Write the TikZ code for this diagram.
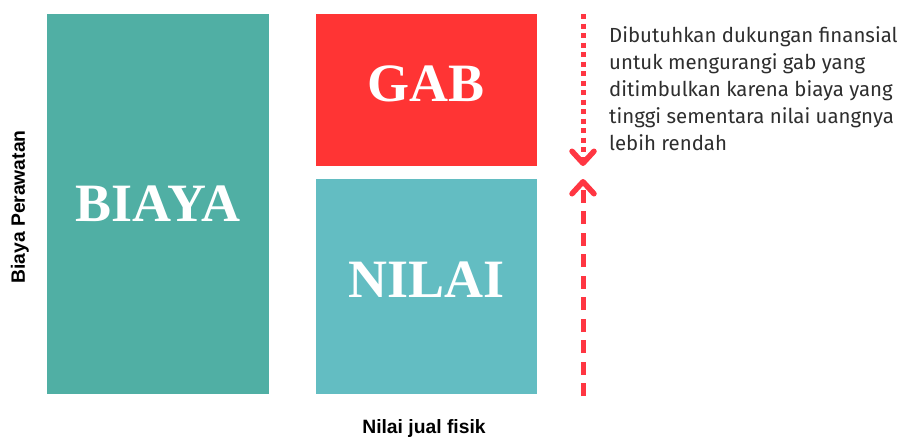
\documentclass[tikz,border=0pt]{standalone}
\usepackage{fontspec}
\setmainfont{Liberation Serif}
\newfontfamily\txtfont{Fira Sans}
\newfontfamily\lblfont{Liberation Sans}
\usetikzlibrary{arrows.meta}
\definecolor{biayacol}{HTML}{50AFA4}
\definecolor{nilaicol}{HTML}{63BDC2}
\definecolor{gabcol}{HTML}{FF3434}
\definecolor{arrcol}{HTML}{FF3642}
\definecolor{txtcol}{HTML}{2E2E2E}
\tikzset{
  blockbox/.style={inner sep=0pt, outer sep=0pt, text=white, font=\fontsize{54}{54}\selectfont\bfseries},
  sidetext/.style={text=txtcol, font=\txtfont\fontsize{20.4}{27}\selectfont, align=left, inner sep=0pt, anchor=north west},
  axislbl/.style={text=black, font=\lblfont\bfseries\fontsize{19.3}{20}\selectfont, inner sep=0pt},
  arrline/.style={draw=arrcol, line width=5pt},
  tipdown/.style={-{Straight Barb[length=12pt, width=22pt, line width=5.5pt, round]}},
}
\begin{document}
\begin{tikzpicture}[x=1pt,y=-1pt]
\useasboundingbox (0,0) rectangle (904,439);
% boxes
\fill[biayacol] (47,14) rectangle (269,394);
\fill[gabcol] (316,14) rectangle (537,166);
\fill[nilaicol] (316,179) rectangle (537,394);
\node[blockbox] (biaya) at (158,204) {BIAYA};
\node[blockbox] (gab) at (426,84) {GAB};
\node[blockbox] (nilai) at (427,280) {NILAI};
% arrows
\coordinate (dtop) at (583,14);
\coordinate (dbot) at (583,166);
\coordinate (ubot) at (583,396);
\coordinate (utop) at (583,179);
\draw[arrline, dash pattern=on 5pt off 4.5pt, tipdown] (dtop) -- (dbot);
\draw[arrline, dash pattern=on 13pt off 8.5pt, tipdown] (ubot) -- (utop);
% texts
\node[sidetext] (note) at (609,26) {Dibutuhkan dukungan finansial\\untuk mengurangi gab yang\\ditimbulkan karena biaya yang\\tinggi sementara nilai uangnya\\lebih rendah};
\node[axislbl, rotate=90] (ylbl) at (20,207) {Biaya Perawatan};
\node[axislbl] (xlbl) at (424,429) {Nilai jual fisik};
\end{tikzpicture}
\end{document}
